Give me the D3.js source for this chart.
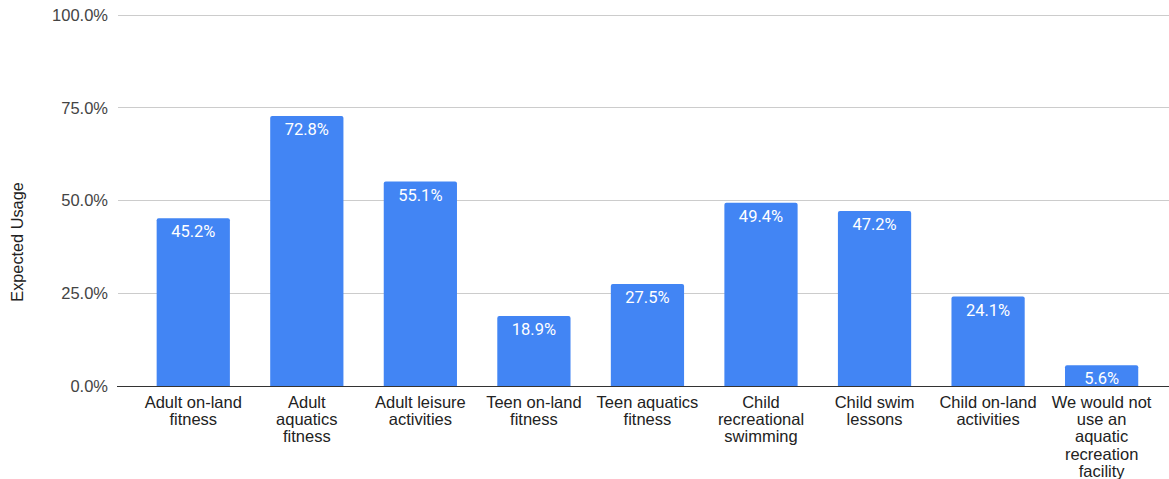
<!DOCTYPE html>
<html><head><meta charset="utf-8">
<script src="https://cdn.jsdelivr.net/npm/d3@7"></script>
<style>body{margin:0;background:#fff}svg{display:block}</style>
</head><body>
<svg id="c" width="1169" height="479"></svg>
<script>
const categories = ["Adult on-land\nfitness","Adult\naquatics\nfitness","Adult leisure\nactivities","Teen on-land\nfitness","Teen aquatics\nfitness","Child\nrecreational\nswimming","Child swim\nlessons","Child on-land\nactivities","We would not\nuse an\naquatic\nrecreation\nfacility"];
const values = [45.2,72.8,55.1,18.9,27.5,49.4,47.2,24.1,5.6];
const yTicks = [0,25,50,75,100];
const yTitle = "Expected Usage";

const svg = d3.select("#c");
const font = "Arial, 'Liberation Sans', sans-serif";
const x = d3.scaleBand().domain(categories).range([136.5,1158.4]).paddingInner(0.355).paddingOuter(0.1775);
const y = d3.scaleLinear().domain([0,100]).range([386,15]);

// gridlines
svg.append("g").selectAll("line").data(yTicks.filter(d=>d>0)).join("line")
  .attr("x1",118).attr("x2",1169).attr("y1",d=>y(d)).attr("y2",d=>y(d))
  .attr("stroke","#ccc").attr("stroke-width",1).attr("shape-rendering","crispEdges");

// y tick labels
svg.append("g").selectAll("text").data(yTicks).join("text")
  .attr("x",108).attr("y",d=>y(d)).attr("dy","0.35em").attr("text-anchor","end")
  .attr("font-family",font).attr("font-size",16.5).attr("fill","#444")
  .text(d=>d.toFixed(1)+"%");

// y title
svg.append("text").attr("transform","translate(23,242) rotate(-90)").attr("text-anchor","middle")
  .attr("font-family",font).attr("font-size",16.3).attr("fill","#222").text(yTitle);

// bars with rounded tops
const r = 2;
function barPath(x0,w,yt,yb){
  return `M${x0},${yb}V${yt+r}Q${x0},${yt} ${x0+r},${yt}H${x0+w-r}Q${x0+w},${yt} ${x0+w},${yt+r}V${yb}Z`;
}
const data = categories.map((c,i)=>({c,v:values[i]}));
svg.append("g").selectAll("path").data(data).join("path")
  .attr("d",d=>barPath(x(d.c),x.bandwidth(),y(d.v),y(0)))
  .attr("fill","#4285F4");

// value labels
svg.append("g").selectAll("text").data(data).join("text")
  .attr("x",d=>x(d.c)+x.bandwidth()/2).attr("y",d=>y(d.v)+19)
  .attr("text-anchor","middle").attr("font-family","Roboto, Arial, sans-serif").attr("font-size",16.5).attr("fill","#fff")
  .text(d=>d.v.toFixed(1)+"%");

// baseline
svg.append("line").attr("x1",117).attr("x2",1169).attr("y1",y(0)).attr("y2",y(0))
  .attr("stroke","#333").attr("stroke-width",1).attr("shape-rendering","crispEdges");

// category labels
const lab = svg.append("g").selectAll("text").data(categories).join("text")
  .attr("text-anchor","middle").attr("font-family",font).attr("font-size",16.5).attr("fill","#222");
lab.each(function(c){
  const t = d3.select(this);
  c.split("\n").forEach((ln,i)=>{
    t.append("tspan").attr("x",x(c)+x.bandwidth()/2).attr("y",408+i*17.2).text(ln);
  });
});
</script>
</body></html>
